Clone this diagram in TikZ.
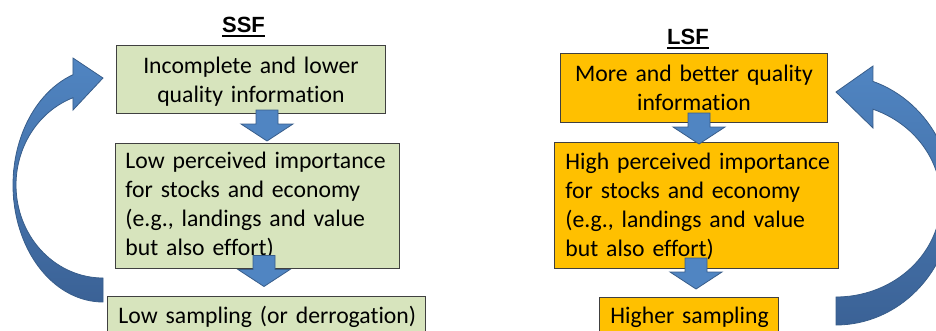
\documentclass[tikz,border=0pt]{standalone}
\usepackage{fontspec}
\setmainfont{Carlito}[Ligatures=NoCommon]
\newfontfamily\headfont{Liberation Sans}
\usetikzlibrary{calc}

\definecolor{greenfill}{HTML}{D7E4BD}
\definecolor{orangefill}{HTML}{FFC000}
\definecolor{boxedge}{HTML}{404040}
\definecolor{flowblue}{HTML}{5085C2}
\definecolor{flowbluedark}{HTML}{3B6296}
\definecolor{flowedge}{HTML}{385D8A}

% invisible rules that fix the space above the first and below the last line
\newcommand\padtop[1]{\rule{0pt}{#1pt}}
\newcommand\padbot[1]{\rule[-#1pt]{0pt}{#1pt}}
\newcommand\oneline[1]{\mbox{#1}}
% heading with a thick underline
\newcommand\headline[1]{\setbox0\hbox{#1}\rlap{\rule[-5pt]{\wd0}{2pt}}\box0}

\tikzset{
  flowbox/.style={draw=boxedge, line width=0.9pt, inner ysep=0pt,
    anchor=north west, font=\fontsize{23.7}{29}\selectfont},
  ssfbox/.style={flowbox, fill=greenfill},
  lsfbox/.style={flowbox, fill=orangefill},
  headstyle/.style={inner sep=0pt, anchor=base,
    font=\headfont\fontsize{22}{26}\selectfont\bfseries},
  downfill/.style={fill=flowblue, draw=flowedge, line width=0.8pt, line join=miter},
  cyclearrow/.style={top color=flowblue, bottom color=flowbluedark,
    draw=flowedge, line width=0.8pt, line join=miter},
  pics/blockdown/.style={code={
    \path[downfill] (-11,0) -- (11,0) -- (11,14) -- (26,14) -- (0,31)
      -- (-26,14) -- (-11,14) -- cycle;}}
}

\begin{document}
\begin{tikzpicture}[x=1pt, y=-1pt]
\useasboundingbox (0,0) rectangle (936,330);
\clip (0,0) rectangle (936,330);

% ---- small-scale fisheries ----
\node[headstyle] (ssftitle) at (243.5,32) {\headline{SSF}};

\node[ssfbox, text width=269pt, inner xsep=0pt, align=center] (ssfinfo) at (116,45)
  {\padtop{28}Incomplete and lower\\quality information\padbot{11}};

\node[ssfbox, text width=264pt, inner xsep=10pt, align=left] (ssfimp) at (115,143)
  {\padtop{25}\oneline{Low perceived importance}\\for stocks and economy\\(e.g., landings and value\\but also effort)\padbot{13}};

\node[ssfbox, text width=296pt, inner xsep=11pt, align=left] (ssfsamp) at (107,296)
  {\padtop{27}\oneline{Low sampling (or derrogation)}\padbot{22}};

\pic at (267,110) {blockdown};
\pic at (264,255.5) {blockdown};

% feedback loop back to the information box
\path[cyclearrow] (103,278) -- (103,302)
  -- plot[domain=90:250.5, samples=60] ({103+90*cos(\x)},{185+117*sin(\x)})
  -- (73,58) -- (103,78) -- (73,110)
  -- plot[domain=249.8:90, samples=60] ({103+87*cos(\x)},{185+93*sin(\x)})
  -- cycle;

% ---- large-scale fisheries ----
\node[headstyle] (lsftitle) at (688,44) {\headline{LSF}};

\node[lsfbox, text width=267pt, inner xsep=0pt, align=center] (lsfinfo) at (560,53)
  {\padtop{28.5}More and better quality\\information\padbot{11.5}};

\node[lsfbox, text width=262pt, inner xsep=11pt, align=left] (lsfimp) at (554,142)
  {\padtop{27.5}\oneline{High perceived importance}\\for stocks and economy\\(e.g., landings and value\\but also effort)\padbot{11.5}};

\node[lsfbox, text width=157pt, inner xsep=11pt, align=left] (lsfsamp) at (599,297)
  {\padtop{26}\oneline{Higher sampling}\padbot{22}};

\pic at (699,113) {blockdown};
\pic at (696,258) {blockdown};

% feedback loop back to the information box
\path[cyclearrow] (836,297) -- (836,325)
  -- plot[domain=90:-71.6, samples=60] ({836+117*cos(\x)},{200+125*sin(\x)})
  -- (873,66) -- (836,92) -- (873,128)
  -- plot[domain=-69.4:90, samples=60] ({836+105*cos(\x)},{200+97*sin(\x)})
  -- cycle;
\end{tikzpicture}
\end{document}
